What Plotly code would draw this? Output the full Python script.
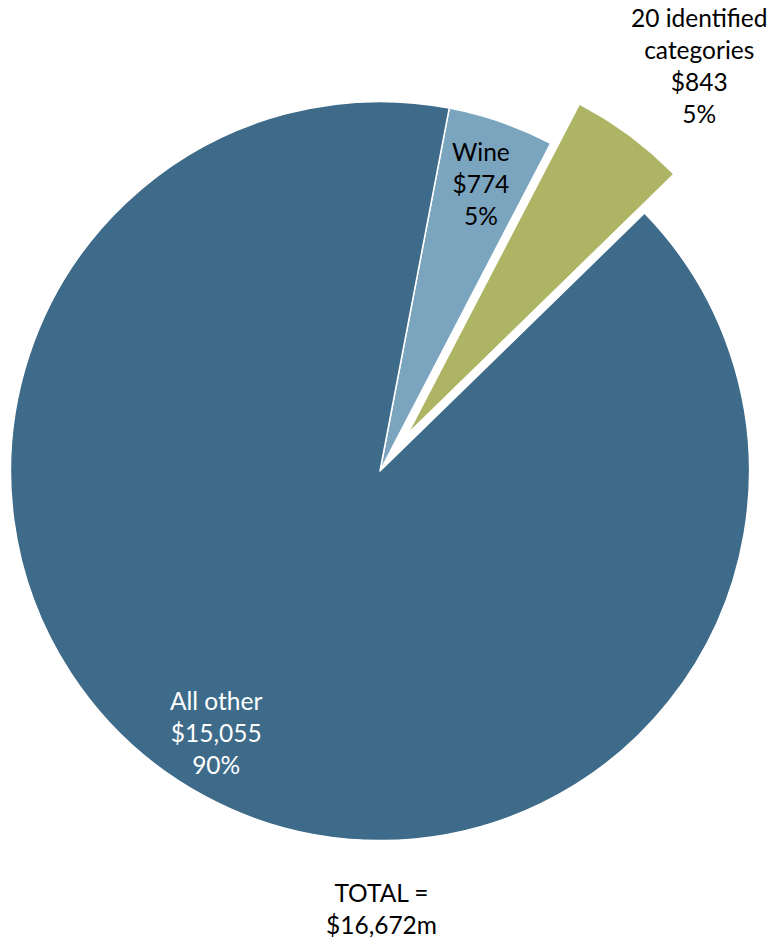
import numpy as np
import plotly.graph_objects as go

# Spending split (in $m)
names = ["Wine", "20 identified<br>categories", "All other"]
values = [774, 843, 15055]
slice_colors = ["#7BA4BF", "#ADB463", "#3E6B89"]
label_colors = ["black", "black", "white"]
total_text = "TOTAL =<br>${:,}m"

W, H = 773, 940
CX, CY, R = 380.0, 471.0, 369.5        # pie centre and radius in px
START = 10.8                           # clockwise start angle from 12 o'clock
PULL_PX = 48.4                         # how far the detached slice is pulled out
DETACHED = 1                           # index of the detached slice

vals = np.array(values, dtype=float)
total = vals.sum()
frac = vals / total
cum_before = np.concatenate([[0.0], np.cumsum(frac)[:-1]])
ang0 = START + 360 * cum_before
ang1 = ang0 + 360 * frac
mid = (ang0 + ang1) / 2


def px_to_paper(x, y):
    return x / W, 1 - y / H


fig = go.Figure()

# main pie: the detached slice is left empty here and drawn separately below
pie_colors = list(slice_colors)
pie_colors[DETACHED] = "rgba(0,0,0,0)"
line_w = [1.5] * len(values)
line_w[DETACHED] = 0
fig.add_trace(go.Pie(
    labels=[n.replace("<br>", " ") for n in names],
    values=values,
    sort=False,
    direction="clockwise",
    rotation=START,
    marker=dict(colors=pie_colors, line=dict(color="white", width=line_w)),
    textinfo="none",
    hoverinfo="skip",
    domain=dict(x=[(CX - R) / W, (CX + R) / W],
                y=[1 - (CY + R) / H, 1 - (CY - R) / H]),
    showlegend=False,
))

# detached slice as a polar wedge whose centre is shifted along its bisector
m = np.radians(mid[DETACHED])
gx = CX + PULL_PX * np.sin(m)
gy = CY - PULL_PX * np.cos(m)
s0 = 90 - ang1[DETACHED] - 3          # math-angle sector, padded
s1 = 90 - ang0[DETACHED] + 3
box_w = R * np.cos(np.radians(s0))
box_h = R * np.sin(np.radians(s1))
fig.add_trace(go.Barpolar(
    r=[1],
    theta=[mid[DETACHED]],
    width=[360 * frac[DETACHED]],
    marker=dict(color=slice_colors[DETACHED], line=dict(color="white", width=1)),
    hoverinfo="skip",
    showlegend=False,
))
fig.update_layout(polar=dict(
    domain=dict(x=[gx / W, (gx + box_w) / W],
                y=[1 - gy / H, 1 - (gy - box_h) / H]),
    sector=[s0, s1],
    hole=0,
    bgcolor="rgba(0,0,0,0)",
    radialaxis=dict(visible=False, range=[0, 1]),
    angularaxis=dict(visible=False, rotation=90, direction="clockwise"),
))

# data labels
label_pos = [(481, 183), (699, 65), (216, 732)]
annotations = []
for name, v, f, col, (x, y) in zip(names, values, frac, label_colors, label_pos):
    px, py = px_to_paper(x, y)
    annotations.append(dict(
        text=f"{name}<br>${v:,}<br>{round(100 * f)}%",
        x=px, y=py, xref="paper", yref="paper",
        xanchor="center", yanchor="middle", showarrow=False,
        font=dict(color=col, size=24.5),
    ))
tx, ty = px_to_paper(381, 908)
annotations.append(dict(
    text=total_text.format(int(total)),
    x=tx, y=ty, xref="paper", yref="paper",
    xanchor="center", yanchor="middle", showarrow=False,
    font=dict(color="black", size=24.5),
))

fig.update_layout(
    width=W, height=H,
    margin=dict(l=0, r=0, t=0, b=0),
    paper_bgcolor="white",
    plot_bgcolor="white",
    font=dict(family="Lato, 'Open Sans', sans-serif", size=24.5, color="black"),
    annotations=annotations,
    showlegend=False,
)

fig.write_html("out.html")
